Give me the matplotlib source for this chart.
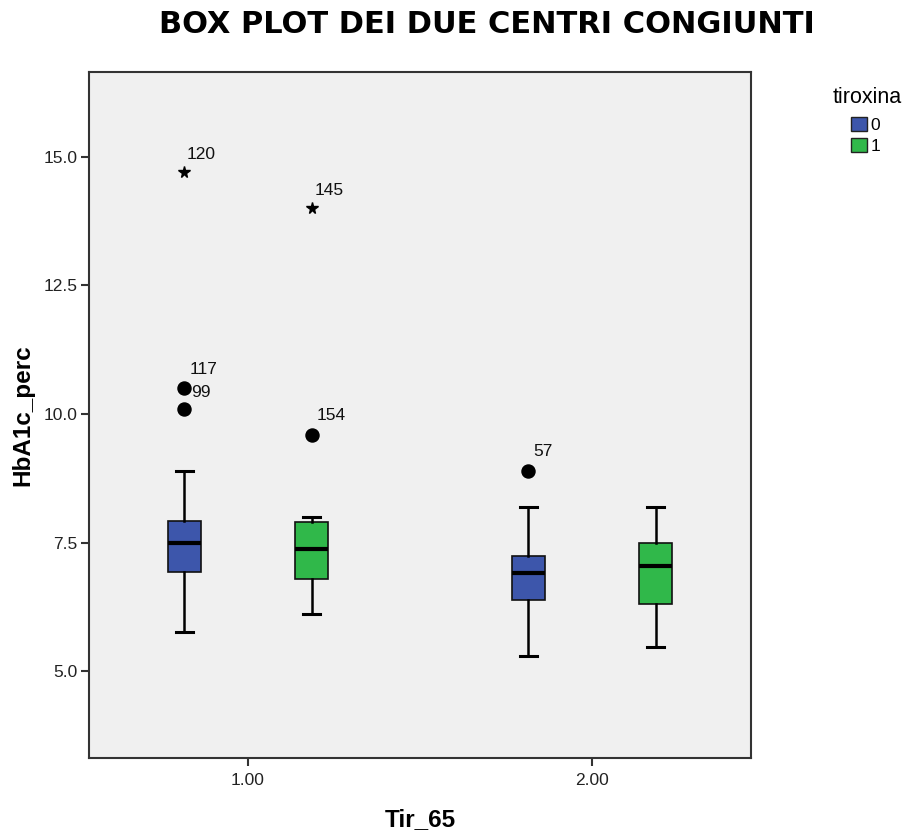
import numpy as np
import matplotlib.pyplot as plt
from matplotlib.patches import Patch

# gruppi Tir_65 e livelli di tiroxina
gruppi = [1.0, 2.0]
tiroxina = ['0', '1']
colori = ['#3D56AB', '#30B84A']

# statistiche (HbA1c_perc), [gruppo][livello]
whislo = [[5.76, 6.11], [5.29, 5.47]]
q1 = [[6.93, 6.79], [6.38, 6.31]]
med = [[7.49, 7.38], [6.90, 7.05]]
q3 = [[7.92, 7.90], [7.24, 7.50]]
whishi = [[8.90, 7.99], [8.20, 8.20]]

# valori anomali (cerchi)
out_gruppo = [0, 0, 0, 1]
out_livello = [0, 0, 1, 0]
out_valore = [10.5, 10.1, 9.6, 8.9]
out_etich = ['117', '99', '154', '57']

# valori estremi (asterischi)
ext_gruppo = [0, 0]
ext_livello = [0, 1]
ext_valore = [14.7, 14.0]
ext_etich = ['120', '145']

offset = 0.185
larg = 0.096
font = 'Liberation Sans'

fig = plt.figure(figsize=(9.06, 8.31), dpi=100)
ax = fig.add_axes([0.0982, 0.0878, 0.7308, 0.8256])
ax.set_facecolor('#F0F0F0')


def xpos(g, l):
    return gruppi[g] + (l - 0.5) * 2 * offset


stats, pos, facce = [], [], []
for g in range(len(gruppi)):
    for l in range(len(tiroxina)):
        stats.append(dict(whislo=whislo[g][l], q1=q1[g][l], med=med[g][l],
                          q3=q3[g][l], whishi=whishi[g][l], fliers=[]))
        pos.append(xpos(g, l))
        facce.append(colori[l])

bp = ax.bxp(stats, positions=pos, widths=larg, patch_artist=True,
            showfliers=False, manage_ticks=False,
            boxprops=dict(edgecolor='#111111', linewidth=1.2),
            medianprops=dict(color='black', linewidth=3),
            whiskerprops=dict(color='black', linewidth=1.8),
            capprops=dict(color='black', linewidth=2.2), capwidths=larg / 2)
for b, c in zip(bp['boxes'], facce):
    b.set_facecolor(c)

for g, l, v, t in zip(out_gruppo, out_livello, out_valore, out_etich):
    ax.plot(xpos(g, l), v, 'o', color='black', markersize=9.4)
    dx = 5 if t == '99' else 3.5
    dy = 6.5 if t == '99' else 8
    ax.annotate(t, (xpos(g, l), v), xytext=(dx, dy), textcoords='offset points',
                fontsize=12.5, family=font, va='bottom', color='#111111')

for g, l, v, t in zip(ext_gruppo, ext_livello, ext_valore, ext_etich):
    ax.plot(xpos(g, l), v, '*', color='black', markersize=8.5)
    ax.annotate(t, (xpos(g, l), v), xytext=(2, 7.5), textcoords='offset points',
                fontsize=12.5, family=font, va='bottom', color='#111111')

ax.set_xlim(0.538, 2.462)
ax.set_ylim(3.31, 16.65)
ax.set_xticks(gruppi)
ax.set_xticklabels(['%.2f' % g for g in gruppi])
ax.set_yticks([5.0, 7.5, 10.0, 12.5, 15.0])
ax.set_yticklabels(['5.0', '7.5', '10.0', '12.5', '15.0'])
for lab in ax.get_xticklabels() + ax.get_yticklabels():
    lab.set_family(font)
    lab.set_fontsize(12.5)
    lab.set_color('#222222')
ax.tick_params(length=6, width=1.5, color='#333333', pad=2)
ax.tick_params(axis='x', pad=5)
for s in ax.spines.values():
    s.set_linewidth(1.5)
    s.set_color('#333333')

ax.set_ylabel('HbA1c_perc', fontsize=17.5, fontweight='bold', family=font, labelpad=7)
ax.set_xlabel('Tir_65', fontsize=17.5, fontweight='bold', family=font, labelpad=14)
fig.text(0.538, 0.970, 'BOX PLOT DEI DUE CENTRI CONGIUNTI', ha='center', va='center',
         fontsize=22, fontweight='bold', family='DejaVu Sans')

# legenda: titolo a parte, voci sotto
fig.text(0.957, 0.883, 'tiroxina', ha='center', va='center', fontsize=15.5, family=font)
handles = [Patch(facecolor=c, edgecolor='#222222') for c in colori]
leg = fig.legend(handles, tiroxina, loc='upper left',
                 bbox_to_anchor=(0.9395, 0.859), frameon=False,
                 handlelength=0.92, handleheight=0.86, handletextpad=0.2,
                 labelspacing=0.27, borderpad=0, borderaxespad=0,
                 prop=dict(family=font, size=12.5))

fig.savefig('out.png', dpi=100)
